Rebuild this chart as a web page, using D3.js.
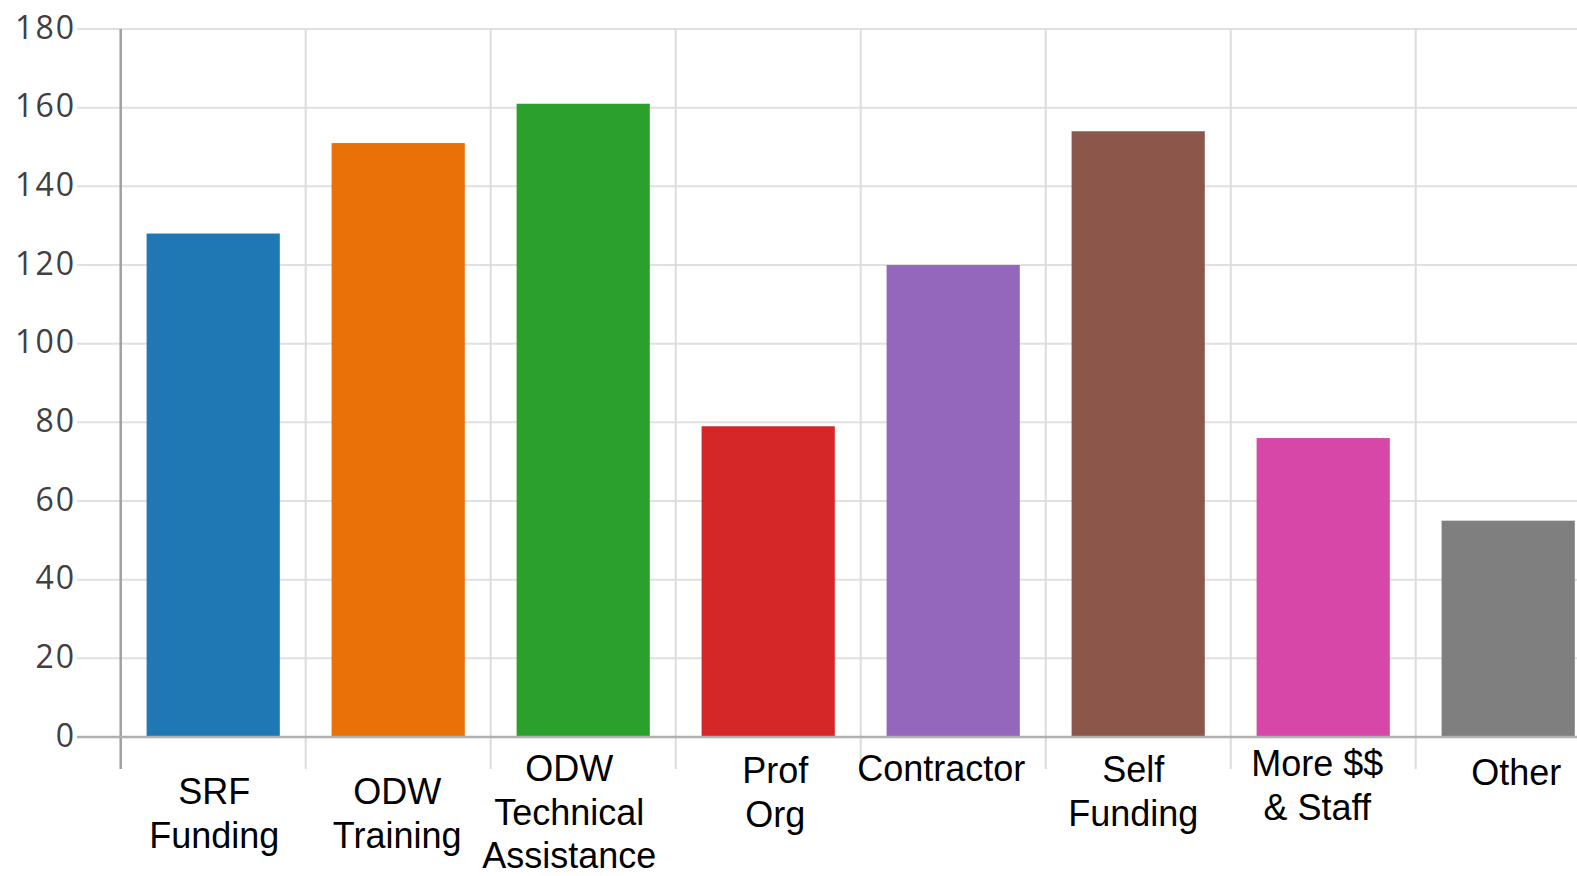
<!DOCTYPE html>
<html>
<head>
<meta charset="utf-8">
<script src="https://cdn.jsdelivr.net/npm/d3@7"></script>
<style>
  html, body { margin: 0; padding: 0; background: #fff; overflow: hidden; }
  svg { display: block; }
</style>
</head>
<body>
<svg id="chart" width="1577" height="876"></svg>
<script>
// Categories (multi-line labels split on "|")
const categories = [
  "SRF|Funding",
  "ODW|Training",
  "ODW|Technical|Assistance",
  "Prof|Org",
  "Contractor",
  "Self|Funding",
  "More $$|& Staff",
  "Other"
];
const values = [128, 151, 161, 79, 120, 154, 76, 55];
const barColors = ["#1f77b4", "#ea7108", "#2ca02c", "#d62728", "#9467bd", "#8c564b", "#d647a8", "#7f7f7f"];
const yTicks = [0, 20, 40, 60, 80, 100, 120, 140, 160, 180];

// Layout
const plotLeft = 120.7, plotTop = 29, plotBottom = 737, tickBottom = 769;
const colStep = 185;
const chartW = 1577;
// category label placement: first-line baseline below the axis, horizontal nudge
const labelFirstBaseline = [67, 67, 44, 46, 44, 45, 39, 48];
const labelShiftX = [1, -1, -14, 7, -12, -5, -6, 8];
const lineHeight = 43.5;

const svg = d3.select("#chart");

const x = d3.scaleBand()
  .domain(categories)
  .range([plotLeft, plotLeft + colStep * categories.length])
  .paddingInner(0.28)
  .paddingOuter(0.14);

const y = d3.scaleLinear().domain([0, 180]).range([plotBottom, plotTop]);

// horizontal gridlines with left tick stubs
const grid = svg.append("g");
grid.selectAll("line.h")
  .data(yTicks.filter(d => d !== 0))
  .join("line")
  .attr("class", "h")
  .attr("x1", 77).attr("x2", chartW)
  .attr("y1", d => y(d)).attr("y2", d => y(d))
  .attr("stroke", "#e0e0e0").attr("stroke-width", 2);

// vertical gridlines at column boundaries
const boundaries = categories.map(c => x(c) - x.step() * x.paddingInner() / 2);
grid.selectAll("line.v")
  .data(boundaries.slice(1))
  .join("line")
  .attr("class", "v")
  .attr("x1", d => d).attr("x2", d => d)
  .attr("y1", plotTop).attr("y2", tickBottom)
  .attr("stroke", "#dcdcdc").attr("stroke-width", 2);

// bars
svg.append("g").selectAll("rect")
  .data(values)
  .join("rect")
  .attr("x", (d, i) => x(categories[i]))
  .attr("width", x.bandwidth())
  .attr("y", d => y(d))
  .attr("height", d => y(0) - y(d))
  .attr("fill", (d, i) => barColors[i]);

// axis lines
svg.append("line")
  .attr("x1", plotLeft).attr("x2", plotLeft)
  .attr("y1", plotTop).attr("y2", tickBottom)
  .attr("stroke", "#a0a0a0").attr("stroke-width", 2.5);
svg.append("line")
  .attr("x1", 77).attr("x2", chartW)
  .attr("y1", y(0)).attr("y2", y(0))
  .attr("stroke", "#b0b0b0").attr("stroke-width", 2.5);

// y tick labels
svg.append("g").selectAll("text")
  .data(yTicks)
  .join("text")
  .attr("x", 76)
  .attr("y", d => y(d) - 3)
  .attr("text-anchor", "end")
  .attr("dominant-baseline", "central")
  .attr("font-family", "'Open Sans', sans-serif")
  .attr("font-size", 32)
  .attr("letter-spacing", 2)
  .attr("fill", "#404040")
  .text(d => d);

// category labels
const lbl = svg.append("g")
  .attr("font-family", "'Liberation Sans', Arial, sans-serif")
  .attr("font-size", 36)
  .attr("fill", "#000")
  .attr("text-anchor", "middle");

categories.forEach((c, i) => {
  const cx = x(c) + x.bandwidth() / 2 + labelShiftX[i];
  const t = lbl.append("text")
    .attr("x", cx)
    .attr("y", plotBottom + labelFirstBaseline[i]);
  c.split("|").forEach((line, j) => {
    t.append("tspan")
      .attr("x", cx)
      .attr("dy", j === 0 ? 0 : lineHeight)
      .text(line);
  });
});
</script>
</body>
</html>
